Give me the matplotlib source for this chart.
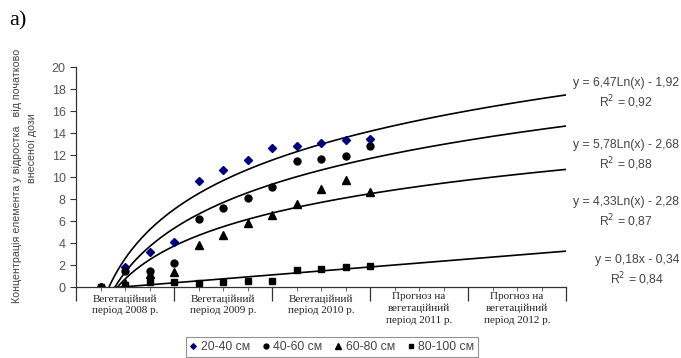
import numpy as np
import matplotlib.pyplot as plt
from matplotlib.transforms import blended_transform_factory

# Номери спостережень по осі X
x_obs = np.arange(1, 13)

# Концентрація (% від початково внесеної дози) за шарами ґрунту
c_20_40 = [0.0, 1.8, 3.15, 4.1, 9.6, 10.6, 11.55, 12.6, 12.8, 13.05, 13.35, 13.5]
c_40_60 = [0.0, 1.5, 1.5, 2.2, 6.15, 7.15, 8.1, 9.1, 11.5, 11.6, 11.9, 12.8]
c_60_80 = [0.0, 0.4, 1.2, 1.35, 3.8, 4.75, 5.8, 6.55, 7.55, 8.95, 9.7, 8.65]
c_80_100 = [0.0, 0.2, 0.5, 0.5, 0.4, 0.5, 0.55, 0.55, 1.55, 1.65, 1.8, 1.95]

layer_labels = ["20-40 см", "40-60 см", "60-80 см", "80-100 см"]

# Коефіцієнти ліній тренду (як на графіку)
log_fits = [(6.47, -1.92), (5.78, -2.68), (4.33, -2.28)]
lin_fit = (0.18, -0.34)
eq_texts = [
    "y = 6,47Ln(x) - 1,92\nR$^2$ = 0,92",
    "y = 5,78Ln(x) - 2,68\nR$^2$ = 0,88",
    "y = 4,33Ln(x) - 2,28\nR$^2$ = 0,87",
    "y = 0,18x - 0,34\nR$^2$ = 0,84",
]
eq_y_px = [94, 156, 213, 271]

period_labels = [
    "Вегетаційний\nперіод 2008 р.",
    "Вегетаційний\nперіод 2009 р.",
    "Вегетаційний\nперіод 2010 р.",
    "Прогноз на\nвегетаційний\nперіод 2011 р.",
    "Прогноз на\nвегетаційний\nперіод 2012 р.",
]

ylabel_lines = ["Концентрація елемента у відростка   від початково", "внесеної дози"]

W, H = 681, 358
fig = plt.figure(figsize=(W / 100, H / 100), dpi=100)
ax = fig.add_axes([76 / W, 1 - 287 / H, (566 - 76) / W, (287 - 67) / H])

sans = "Liberation Sans"
serif = "Liberation Serif"

# лінії тренду
xt = np.linspace(1, 20, 400)
for a, b in log_fits:
    ax.plot(xt, a * np.log(xt) + b, color="black", lw=1.2)
ax.plot(xt, lin_fit[0] * xt + lin_fit[1], color="black", lw=1.2)

# точки
ax.plot(x_obs, c_20_40, "D", color="#000080", ms=4, ls="none", label=layer_labels[0])
ax.plot(x_obs, c_40_60, "o", color="black", ms=5, ls="none", label=layer_labels[1])
ax.plot(x_obs, c_60_80, "^", color="black", ms=5.5, ls="none", label=layer_labels[2])
ax.plot(x_obs, c_80_100, "s", color="black", ms=5, ls="none", label=layer_labels[3])

ax.set_xlim(0, 20)
ax.set_ylim(0, 20)
ax.set_yticks(np.arange(0, 21, 2))
ax.set_xticks(np.arange(0, 21, 4))
ax.set_xticks(np.arange(0, 21, 1), minor=True)
ax.set_xticklabels([])
ax.tick_params(axis="x", which="major", length=10, width=0.9, color="#333333")
ax.tick_params(axis="x", which="minor", length=3, width=0.7, color="#666666")
ax.tick_params(axis="y", length=4, width=0.8, color="#333333",
               labelsize=9, labelcolor="#555555")
for lab in ax.get_yticklabels():
    lab.set_family(sans)
for s in ["top", "right"]:
    ax.spines[s].set_visible(False)
for s in ["left", "bottom"]:
    ax.spines[s].set_color("#333333")
    ax.spines[s].set_linewidth(0.9)

# підписи періодів
tr = blended_transform_factory(ax.transData, fig.transFigure)
for i, lab in enumerate(period_labels):
    ytop = 292 if lab.count("\n") == 2 else 294
    ax.text(4 * i + 2, 1 - ytop / H, lab, transform=tr, ha="center", va="top",
            family=serif, fontsize=8, color="#222222", linespacing=1.35)

# рівняння трендів
for txt, yp in zip(eq_texts, eq_y_px):
    fig.text(679 / W, 1 - yp / H, txt, ha="right", va="center",
             multialignment="center", family=sans, fontsize=8.8,
             color="#444444", linespacing=1.3)

# підпис осі Y (два рядки)
fig.text(17 / W, 1 - 176 / H, ylabel_lines[0], rotation=90, ha="center",
         va="center", family=sans, fontsize=7.7, color="#444444")
fig.text(32 / W, 1 - 148 / H, ylabel_lines[1], rotation=90, ha="center",
         va="center", family=sans, fontsize=7.7, color="#444444")

fig.text(9 / W, 1 - 21 / H, "а)", family=serif, fontsize=16,
         ha="left", va="center")

leg = fig.legend(loc="center", bbox_to_anchor=(332 / W, 1 - 347 / H), ncol=4,
                 frameon=True, fancybox=False, edgecolor="#777777",
                 handlelength=0.6, handletextpad=0.3, columnspacing=1.0,
                 borderpad=0.3, prop={"family": sans, "size": 8.8}, markerscale=0.7)
leg.get_frame().set_linewidth(0.8)
for t in leg.get_texts():
    t.set_color("#444444")

fig.savefig("out.png", dpi=100)
